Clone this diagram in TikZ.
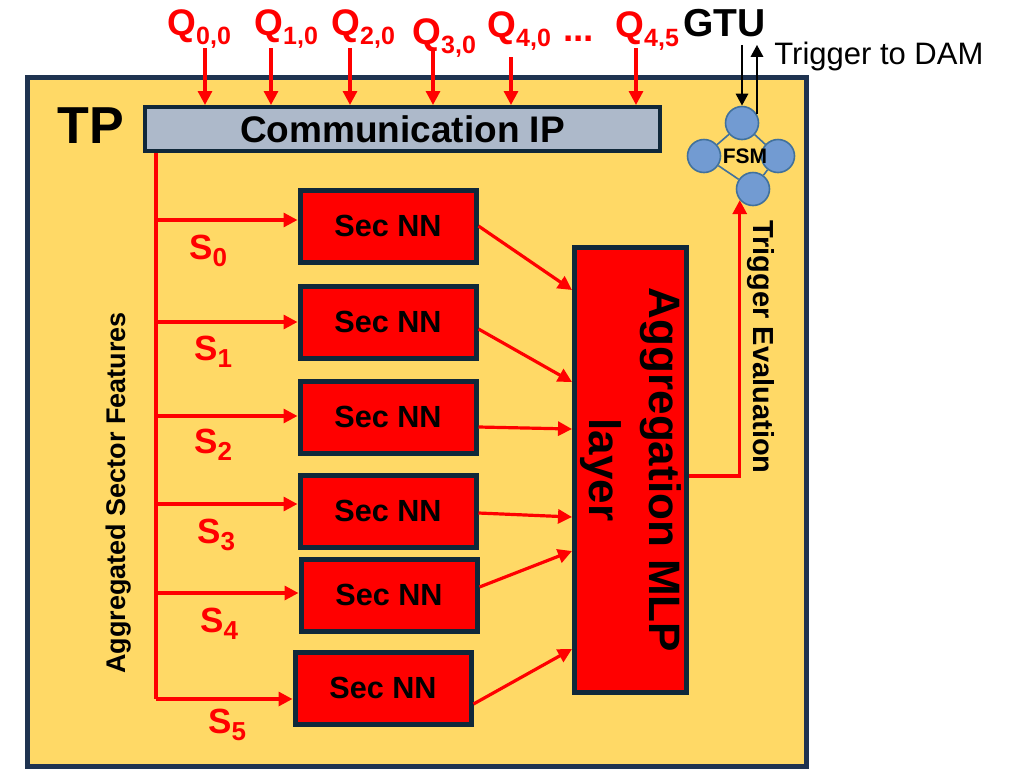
\documentclass[tikz,border=0pt]{standalone}
\usepackage{fontspec}
\setmainfont{Liberation Sans}
\usepackage{tikz}
\usetikzlibrary{positioning,calc,arrows.meta}
\definecolor{tpgold}{RGB}{255,217,102}
\definecolor{tpnavy}{RGB}{31,51,80}
\definecolor{tpedge}{RGB}{16,40,58}
\definecolor{tpslate}{RGB}{173,185,202}
\definecolor{tpred}{RGB}{255,0,0}
\definecolor{fsmblue}{RGB}{114,155,210}
\definecolor{fsmedge}{RGB}{65,113,156}
\newcommand{\qidx}[1]{\raisebox{-4.5pt}{\fontsize{12.5}{12.5}\selectfont #1}}
\newcommand{\sidx}[1]{\raisebox{-3.5pt}{\fontsize{13}{13}\selectfont #1}}
\tikzset{
  secnn/.style={draw=tpedge, line width=2.5pt, fill=tpred, minimum width=88pt,
    minimum height=36pt, font=\fontsize{15.3}{15.3}\selectfont\bfseries},
  redarrow/.style={tpred, line width=1.6pt, -{Triangle[length=7pt,width=7pt]}},
  blackarrow/.style={black, line width=1.4pt, -{Triangle[length=6pt,width=6pt]}},
  qlab/.style={tpred, font=\fontsize{18.5}{18.5}\selectfont\bfseries, anchor=base west, inner sep=0pt},
  slab/.style={tpred, font=\fontsize{17.5}{17.5}\selectfont\bfseries, anchor=base west, inner sep=0pt},
  fsmstate/.style={circle, draw=fsmedge, line width=0.8pt, fill=fsmblue, minimum size=16.5pt, inner sep=0pt}
}

\begin{document}
\begin{tikzpicture}[x=0.5pt, y=-0.5pt]
\useasboundingbox (0,0) rectangle (1012,772);
\draw[tpnavy, line width=2.5pt, fill=tpgold] (27,77) rectangle (806,766);
\node[font=\fontsize{26}{26}\selectfont\bfseries] (tp) at (91,126) {TP};
\node[draw=tpedge, line width=2pt, fill=tpslate, minimum width=257.5pt, minimum height=22pt,
  font=\fontsize{18.5}{18.5}\selectfont\bfseries] (comm) at (402.5,129) {Communication IP};

\node[qlab] (q0) at (167,35) {Q\qidx{0,0}};
\node[qlab] (q1) at (254,35) {Q\qidx{1,0}};
\node[qlab] (q2) at (331,35) {Q\qidx{2,0}};
\node[qlab] (q3) at (412,44) {Q\qidx{3,0}};
\node[qlab] (q4) at (487,37) {Q\qidx{4,0}};
\node[qlab] (qdots) at (563,41) {...};
\node[qlab] (q45) at (615,37) {Q\qidx{4,5}};
\foreach \ax/\ay in {205/48, 271/48, 350/48, 433/48, 511/57, 636/48}
  \draw[redarrow] (\ax,\ay) -- (\ax,0 |- comm.north);

\node[font=\fontsize{19.5}{19.5}\selectfont\bfseries, anchor=base west, inner xsep=0pt, inner ysep=4pt] (gtu) at (683,36) {GTU};
\node[font=\fontsize{15.5}{15.5}\selectfont, anchor=base west, inner sep=0pt] (dam) at (774,64) {Trigger to DAM};

\node[fsmstate] (fsmT) at (742,123) {};
\node[fsmstate] (fsmL) at (704,156) {};
\node[fsmstate] (fsmR) at (778,156) {};
\node[fsmstate] (fsmB) at (753,189) {};
\draw[fsmedge, line width=0.8pt] (fsmT) -- (fsmL) (fsmT) -- (fsmR) (fsmL) -- (fsmB) (fsmR) -- (fsmB);
\node[font=\fontsize{10.5}{10.5}\selectfont\bfseries] (fsm) at (745,156) {FSM};
\draw[blackarrow] (gtu.south -| fsmT.north) -- (fsmT.north);
\draw[blackarrow] (fsmT.30) -- (fsmT.30 |- gtu.south);

\node[secnn] (s0) at (388,226) {Sec NN};
\node[secnn] (s1) at (388,322) {Sec NN};
\node[secnn] (s2) at (388,417) {Sec NN};
\node[secnn] (s3) at (388,511) {Sec NN};
\node[secnn] (s4) at (389,595) {Sec NN};
\node[secnn] (s5) at (383,688) {Sec NN};

\node[draw=tpedge, line width=2.5pt, fill=tpred, minimum width=56pt, minimum height=222.5pt] (agg) at (630.5,470) {};
\node[rotate=-90, align=center, font=\fontsize{22}{30}\selectfont\bfseries] (aggtext) at (agg.center) {Aggregation MLP\\layer};

\coordinate (bustop) at ($(comm.south west)+(13,0)$);
\foreach \i/\y in {0/220,1/322,2/416,3/504,4/593,5/699}
  \coordinate (b\i) at (bustop |- 0,\y);
\draw[tpred, line width=1.6pt] (bustop) -- (b5);
\foreach \i in {0,...,5}
  \draw[redarrow] (b\i) -- (b\i -| s\i.west);

\node[slab] (l0) at (189,259) {S\sidx{0}};
\node[slab] (l1) at (194,360) {S\sidx{1}};
\node[slab] (l2) at (194,453) {S\sidx{2}};
\node[slab] (l3) at (197,543) {S\sidx{3}};
\node[slab] (l4) at (200,632) {S\sidx{4}};
\node[slab] (l5) at (208,733) {S\sidx{5}};

\draw[redarrow] (s0.east) -- (agg.west |- 0,290);
\draw[redarrow] (s1.east |- 0,329) -- (agg.west |- 0,382);
\draw[redarrow] (s2.east |- 0,427) -- (agg.west |- 0,429);
\draw[redarrow] (s3.east |- 0,513) -- (agg.west |- 0,517);
\draw[redarrow] (s4.east |- 0,587) -- (agg.west |- 0,551);
\draw[redarrow] (s5.east |- 0,704) -- (agg.west |- 0,649);

\draw[redarrow] (agg.east |- 0,476) -| (fsmB.220);
\node[rotate=-90, font=\fontsize{14.5}{14.5}\selectfont\bfseries] (trig) at (761,347) {Trigger Evaluation};
\node[rotate=90, font=\fontsize{13.5}{13.5}\selectfont\bfseries] (asf) at (119,493) {Aggregated Sector Features};
\end{tikzpicture}
\end{document}
